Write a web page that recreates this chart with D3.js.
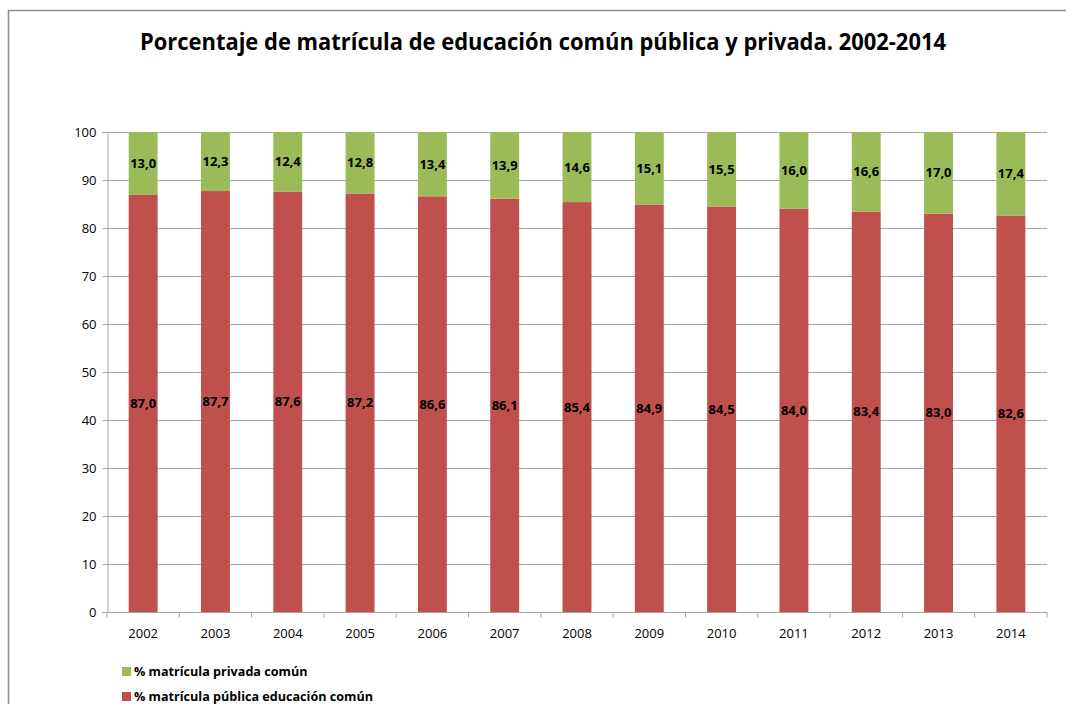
<!DOCTYPE html>
<html><head><meta charset="utf-8">
<script src="https://cdn.jsdelivr.net/npm/d3@7"></script>
<style>body{margin:0;background:#fff}svg{display:block}text{font-family:"Open Sans","Noto Sans",sans-serif}</style>
</head><body>
<svg id="c" width="1066" height="704"></svg>
<script>
const years = ["2002","2003","2004","2005","2006","2007","2008","2009","2010","2011","2012","2013","2014"];
const publica = [87.0,87.7,87.6,87.2,86.6,86.1,85.4,84.9,84.5,84.0,83.4,83.0,82.6];
const privada = [13.0,12.3,12.4,12.8,13.4,13.9,14.6,15.1,15.5,16.0,16.6,17.0,17.4];
const yTicks = [0,10,20,30,40,50,60,70,80,90,100];
const titleText = "Porcentaje de matrícula de educación común pública y privada. 2002-2014";
const legendLabels = ["% matrícula privada común","% matrícula pública educación común"];
const colors = {priv:"#9BBB59", pub:"#C0504D"};

const svg = d3.select("#c");
// frame
svg.append("rect").attr("x",8.5).attr("y",10.5).attr("width",1080).attr("height",720)
  .attr("fill","#fff").attr("stroke","#8c8c8c").attr("stroke-width",1.5);

const L=107, R=1047, T=132, B=612;
const x = d3.scaleBand().domain(years).range([L,R]).paddingInner(0.6).paddingOuter(0.3);
const y = d3.scaleLinear().domain([0,100]).range([B,T]);

// gridlines
svg.append("g").selectAll("line").data(yTicks).join("line")
  .attr("x1",L).attr("x2",R).attr("y1",d=>y(d)+0.5).attr("y2",d=>y(d)+0.5)
  .attr("stroke","#a6a6a6").attr("stroke-width",1);

// y axis
const ya = svg.append("g").attr("transform",`translate(${L+0.5},0)`)
  .call(d3.axisLeft(y).tickValues(yTicks).tickSize(5).tickPadding(6));
ya.select(".domain").attr("stroke","#a6a6a6");
ya.selectAll(".tick line").attr("stroke","#a6a6a6");
ya.selectAll("text").attr("font-size",13).attr("fill","#000").attr("dy","0.33em");

// x axis with ticks at band boundaries
const xa = svg.append("g").attr("transform",`translate(0,${B+0.5})`);
xa.append("line").attr("x1",L).attr("x2",R).attr("stroke","#a6a6a6");
const bounds = d3.range(years.length+1).map(i=>L+i*(R-L)/years.length);
xa.selectAll("line.t").data(bounds).join("line").attr("class","t")
  .attr("x1",d=>d).attr("x2",d=>d).attr("y1",0).attr("y2",5).attr("stroke","#a6a6a6");
xa.selectAll("text").data(years).join("text")
  .attr("x",d=>x(d)+x.bandwidth()/2).attr("y",25).attr("text-anchor","middle")
  .attr("font-size",13).attr("fill","#000").text(d=>d);

// bars
const data = years.map((yr,i)=>({yr,pub:publica[i],priv:privada[i]}));
const g = svg.append("g");
g.selectAll("rect.pub").data(data).join("rect").attr("class","pub")
  .attr("x",d=>x(d.yr)).attr("width",x.bandwidth())
  .attr("y",d=>y(d.pub)).attr("height",d=>y(0)-y(d.pub)).attr("fill",colors.pub);
g.selectAll("rect.priv").data(data).join("rect").attr("class","priv")
  .attr("x",d=>x(d.yr)).attr("width",x.bandwidth())
  .attr("y",d=>y(d.pub+d.priv)).attr("height",d=>y(d.pub)-y(d.pub+d.priv)).attr("fill",colors.priv);

const fmt = v => v.toFixed(1).replace(".",",");
g.selectAll("text.lp").data(data).join("text").attr("class","lp")
  .attr("x",d=>x(d.yr)+x.bandwidth()/2).attr("y",d=>(y(0)+y(d.pub))/2).attr("dy","0.35em")
  .attr("text-anchor","middle").attr("font-size",13).attr("font-weight","bold").text(d=>fmt(d.pub));
g.selectAll("text.lv").data(data).join("text").attr("class","lv")
  .attr("x",d=>x(d.yr)+x.bandwidth()/2).attr("y",d=>(y(d.pub)+y(d.pub+d.priv))/2).attr("dy","0.35em")
  .attr("text-anchor","middle").attr("font-size",13).attr("font-weight","bold").text(d=>fmt(d.priv));

// title
svg.append("text").attr("x",543).attr("y",50).attr("text-anchor","middle")
  .attr("font-size",23).attr("font-weight","bold")
  .attr("textLength",806).attr("lengthAdjust","spacingAndGlyphs").text(titleText);

// legend
const lg = svg.append("g");
const lc = [colors.priv, colors.pub];
legendLabels.forEach((lab,i)=>{
  const yy = 672 + i*25;
  lg.append("rect").attr("x",122).attr("y",yy-5).attr("width",9).attr("height",9).attr("fill",lc[i]);
  lg.append("text").attr("x",134).attr("y",yy).attr("dy","0.35em").attr("font-size",12.6)
    .attr("font-weight","bold").text(lab);
});
</script>
</body></html>
